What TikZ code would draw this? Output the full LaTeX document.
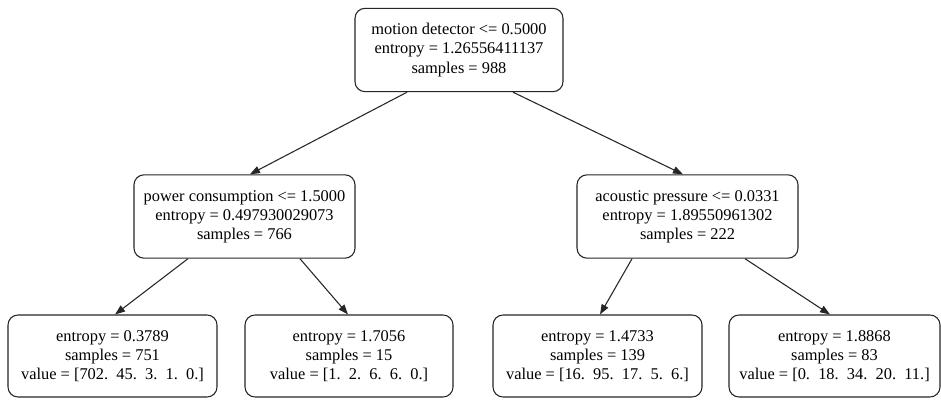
\documentclass[tikz,border=0pt]{standalone}
\usepackage{fontspec}
\setmainfont{Liberation Serif}
\usetikzlibrary{arrows.meta}
\begin{document}
\begin{tikzpicture}[x=0.75pt,y=-0.75pt,
  box/.style={draw=black!85,line width=0.8pt,rounded corners=7.5pt,align=center,
    font=\fontsize{12.3}{14.4}\selectfont,inner sep=0pt,minimum height=62.5pt},
  edge/.style={draw=black!85,line width=0.8pt,-{Triangle[length=7.5pt,width=5.5pt]}}]
\useasboundingbox[fill=white] (0,0) rectangle (941,402);
\node[box,minimum width=156pt] (root) at (459,50)
  {motion detector <= 0.5000\\entropy = 1.26556411137\\samples = 988};
\node[box,minimum width=165.75pt] (pc) at (244.5,216.5)
  {power consumption <= 1.5000\\entropy = 0.497930029073\\samples = 766};
\node[box,minimum width=165.75pt] (ap) at (687.5,216.5)
  {acoustic pressure <= 0.0331\\entropy = 1.89550961302\\samples = 222};
\node[box,minimum width=156.75pt,minimum height=61.5pt] (l1) at (112.5,356)
  {entropy = 0.3789\\samples = 751\\value = [702.\ \ 45.\ \ 3.\ \ 1.\ \ 0.]};
\node[box,minimum width=156pt,minimum height=61.5pt] (l2) at (349,356)
  {entropy = 1.7056\\samples = 15\\value = [1.\ \ 2.\ \ 6.\ \ 6.\ \ 0.]};
\node[box,minimum width=156.75pt,minimum height=61.5pt] (l3) at (597.5,356)
  {entropy = 1.4733\\samples = 139\\value = [16.\ \ 95.\ \ 17.\ \ 5.\ \ 6.]};
\node[box,minimum width=158.25pt,minimum height=61.5pt] (l4) at (834.5,356)
  {entropy = 1.8868\\samples = 83\\value = [0.\ \ 18.\ \ 34.\ \ 20.\ \ 11.]};
\draw[edge] ([xshift=-39pt]root.south) -- ([xshift=4.1pt]pc.north);
\draw[edge] ([xshift=40.5pt]root.south) -- ([xshift=-3.4pt]ap.north);
\draw[edge] ([xshift=-42.4pt]pc.south) -- ([xshift=1.9pt]l1.north);
\draw[edge] ([xshift=41.6pt]pc.south) -- ([xshift=-0.75pt]l2.north);
\draw[edge] ([xshift=-41.6pt]ap.south) -- ([xshift=1.9pt]l3.north);
\draw[edge] ([xshift=43.1pt]ap.south) -- ([xshift=-3.4pt]l4.north);
\end{tikzpicture}
\end{document}
